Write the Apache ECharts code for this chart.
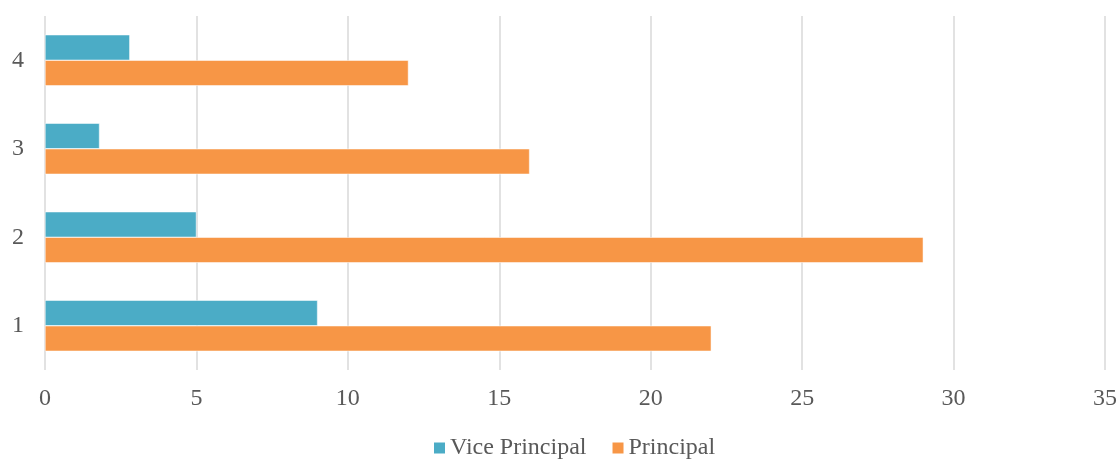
<!DOCTYPE html>
<html>
<head>
<meta charset="utf-8">
<script src="https://cdn.jsdelivr.net/npm/echarts@6/dist/echarts.min.js"></script>
<style>html,body{margin:0;padding:0;background:#fff;}#c{width:1120px;height:462px;}</style>
</head>
<body>
<div id="c"></div>
<script>
const categories = ['1', '2', '3', '4'];
const vicePrincipal = [9, 5, 1.8, 2.8];
const principal = [22, 29, 16, 12];
const xTicks = [0, 5, 10, 15, 20, 25, 30, 35];

const chart = echarts.init(document.getElementById('c'));
const font = '"Liberation Serif", "Times New Roman", serif';
chart.setOption({
  animation: false,
  grid: { left: 45, right: 15, top: 16, bottom: 92 },
  legend: {
    data: ['Vice Principal', 'Principal'],
    top: 431,
    left: 429,
    padding: 5,
    icon: 'rect',
    itemWidth: 11,
    itemHeight: 11,
    itemGap: 26,
    itemStyle: { borderWidth: 0 },
    textStyle: { fontFamily: font, fontSize: 24, color: '#595959' }
  },
  xAxis: {
    type: 'value',
    min: xTicks[0],
    max: xTicks[xTicks.length - 1],
    interval: 5,
    axisLine: { show: false },
    axisTick: { show: false },
    axisLabel: { fontFamily: font, fontSize: 24, color: '#595959', margin: 17 },
    splitLine: { lineStyle: { color: '#d9d9d9', width: 1.5 } }
  },
  yAxis: {
    type: 'category',
    data: categories,
    axisLine: { show: false },
    axisTick: { show: false },
    axisLabel: { fontFamily: font, fontSize: 24, color: '#595959', margin: 21 }
  },
  series: [
    {
      name: 'Vice Principal',
      type: 'bar',
      data: vicePrincipal,
      barWidth: 25.5,
      barGap: '0%',
      itemStyle: { color: '#4BACC6', borderColor: '#ffffff', borderWidth: 0.5 }
    },
    {
      name: 'Principal',
      type: 'bar',
      data: principal,
      barWidth: 25.5,
      barGap: '0%',
      itemStyle: { color: '#F79646', borderColor: '#ffffff', borderWidth: 0.5 }
    }
  ]
});
</script>
</body>
</html>
